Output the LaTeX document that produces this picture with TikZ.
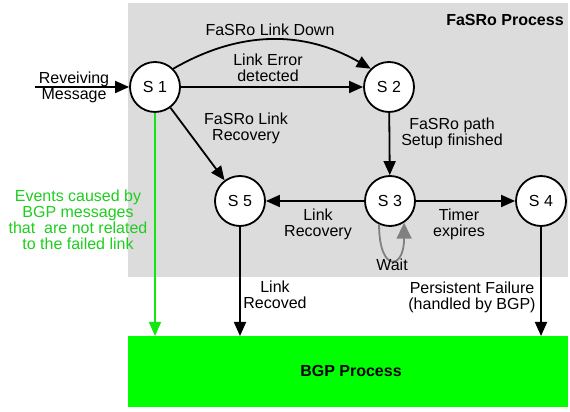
\documentclass[tikz,border=0pt]{standalone}
\usepackage{fontspec}
\setmainfont{Liberation Sans}
\usetikzlibrary{arrows.meta}
\definecolor{bgpgreen}{RGB}{0,255,0}
\definecolor{arrowgreen}{RGB}{20,230,20}
\definecolor{textgreen}{RGB}{30,205,30}
\definecolor{procgray}{RGB}{220,220,220}
\definecolor{loopgray}{RGB}{128,128,128}
\begin{document}
\begin{tikzpicture}[x=1pt,y=1pt,
  state/.style={circle,draw=black,line width=1.8pt,fill=white,minimum size=50pt,inner sep=0pt,font=\fontsize{16}{16}\selectfont},
  lbl/.style={align=center,inner sep=0pt,font=\fontsize{16}{16}\selectfont},
  blbl/.style={align=center,inner sep=0pt,font=\fontsize{16}{16}\selectfont\bfseries},
  arr/.style={line width=1.8pt,-{Triangle[length=14pt,width=12pt]}},
  garr/.style={line width=1.6pt,draw=arrowgreen,-{Triangle[length=14pt,width=12pt]},arrowgreen},
  looparr/.style={line width=1.8pt,draw=loopgray,-{Triangle[length=16pt,width=15pt]},loopgray}]
\useasboundingbox (0,0) rectangle (570,412);
% process areas
\node[fill=procgray,minimum width=440pt,minimum height=274pt,inner sep=0pt,anchor=north west] (fasro) at (128,409) {};
\node[fill=bgpgreen,minimum width=440pt,minimum height=71pt,inner sep=0pt,anchor=north west] (bgp) at (128,76) {};
\node[blbl] (fasrolbl) at (505,392) {FaSRo Process};
\node[blbl] (bgplbl) at (351,41) {BGP Process};
% states
\node[state] (S1) at (155,325) {S 1};
\node[state] (S2) at (389,325) {S 2};
\node[state] (S3) at (390,211) {S 3};
\node[state] (S4) at (541,211) {S 4};
\node[state] (S5) at (240,211) {S 5};
\coordinate (in) at (35,325);
\coordinate (b1) at (S1 |- bgp.north);
\coordinate (b5) at (S5 |- bgp.north);
\coordinate (b4) at (S4 |- bgp.north);
% connectors
\draw[arr] (in) -- (S1);
\draw[arr] (S1.north east) to[out=30,in=150] (S2.north west);
\draw[arr] (S1) -- (S2);
\draw[arr] (S1) -- (S5);
\draw[arr] (S2) -- (S3);
\draw[arr] (S3) -- (S5);
\draw[arr] (S3) -- (S4);
\draw[looparr] (S3.245) .. controls +(0,-48) and +(0,-48) .. (S3.303);
\draw[arr] (S5) -- (b5);
\draw[arr] (S4) -- (b4);
\draw[garr] (S1) -- (b1);
% labels
\node[lbl] (l0) at (74,325) {Reveiving\\Message};
\node[lbl] (l1) at (270,382) {FaSRo Link Down};
\node[lbl] (l2) at (268,344) {Link Error\\detected};
\node[lbl] (l3) at (246,284) {FaSRo Link\\Recovery};
\node[lbl] (l4) at (452,279) {FaSRo path\\Setup finished};
\node[lbl] (l5) at (318,188) {Link\\Recovery};
\node[lbl] (l6) at (459,188) {Timer\\expires};
\node[lbl] (l7) at (392,147) {Wait};
\node[lbl] (l8) at (275,117) {Link\\Recoved};
\node[lbl] (l9) at (472,115) {Persistent Failure\\(handled by BGP)};
\node[lbl,text=textgreen] (l10) at (78,192) {Events caused by\\BGP messages\\that\ \ are not related\\to the failed link};
\end{tikzpicture}
\end{document}
